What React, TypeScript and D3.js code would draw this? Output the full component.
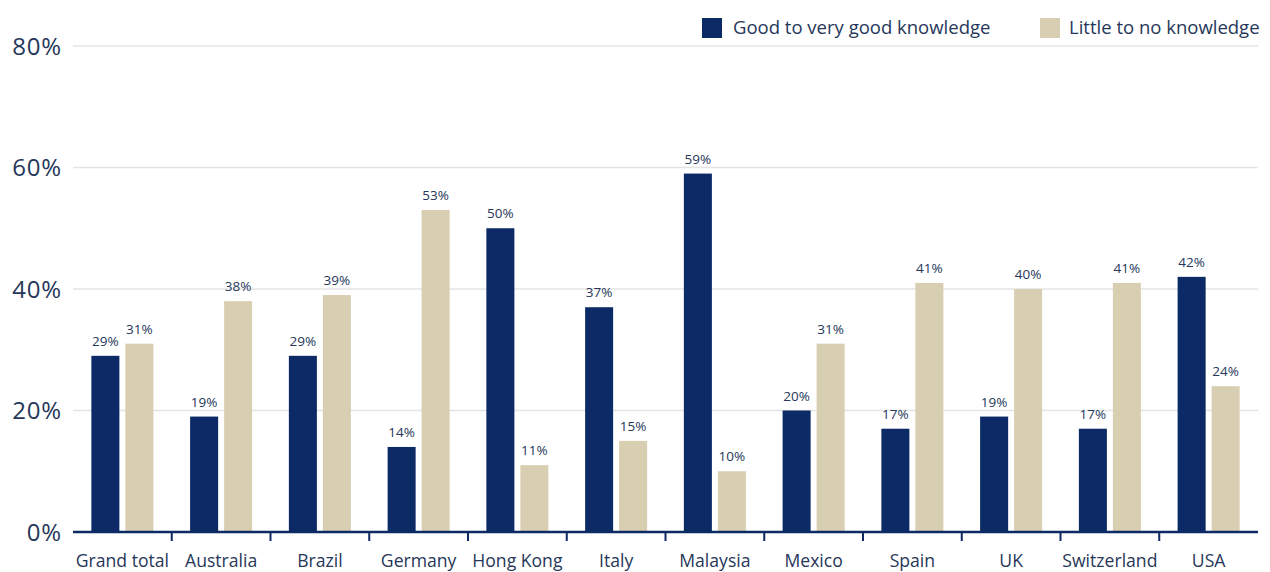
import React from "react";
import * as d3 from "d3";

const categories = ["Grand total", "Australia", "Brazil", "Germany", "Hong Kong", "Italy", "Malaysia", "Mexico", "Spain", "UK", "Switzerland", "USA"];
const goodValues = [29, 19, 29, 14, 50, 37, 59, 20, 17, 19, 17, 42];
const littleValues = [31, 38, 39, 53, 11, 15, 10, 31, 41, 40, 41, 24];
const seriesNames = ["Good to very good knowledge", "Little to no knowledge"];
const seriesColors = ["#0b2a66", "#d8ceb1"];
const yTicks = [0, 20, 40, 60, 80];

const W = 1270;
const H = 572;
const FONT = "'Open Sans', 'Noto Sans', sans-serif";
const TEXT = "#26375a";

export default function App() {
  const x0 = 73, x1 = 1258, y0 = 532, y1 = 46;
  const x = d3.scaleBand<string>().domain(categories).range([x0, x1]).paddingInner(0).paddingOuter(0);
  const xs = d3.scaleBand<string>().domain(["good", "little"]).range([0, x.bandwidth()]).paddingInner(0.176).paddingOuter(0.54);
  const y = d3.scaleLinear().domain([0, 80]).range([y0, y1]);
  const series = [
    { key: "good", values: goodValues, color: seriesColors[0] },
    { key: "little", values: littleValues, color: seriesColors[1] },
  ];
  return (
    <div style={{ position: "absolute", left: 0, top: 0 }}>
      <svg width={W} height={H} style={{ display: "block", fontFamily: FONT }}>
        <rect width={W} height={H} fill="#fff" />
        {yTicks.map((t) => (
          <g key={t}>
            {t > 0 && <line x1={x0} x2={x1} y1={y(t)} y2={y(t)} stroke="#e4e4e4" strokeWidth={1.5} />}
            <text x={62} y={y(t)} dy="0.36em" textAnchor="end" fontSize={24} letterSpacing={0.8} fill={TEXT}>{t}%</text>
          </g>
        ))}
        {series.map((s) =>
          categories.map((c, i) => {
            const bx = (x(c) as number) + (xs(s.key) as number);
            const v = s.values[i];
            return (
              <g key={s.key + c}>
                <rect x={bx} y={y(v)} width={xs.bandwidth()} height={y(0) - y(v)} fill={s.color} />
                <text x={bx + xs.bandwidth() / 2} y={y(v) - 10} textAnchor="middle" fontSize={13.5} fill={TEXT}>{v}%</text>
              </g>
            );
          })
        )}
        <line x1={x0} x2={x1} y1={y0} y2={y0} stroke="#0b2a66" strokeWidth={2.5} />
        {categories.slice(1).map((c) => (
          <line key={"t" + c} x1={x(c) as number} x2={x(c) as number} y1={y0} y2={y0 + 9} stroke="#0b2a66" strokeWidth={2} />
        ))}
        {categories.map((c) => (
          <text key={"l" + c} x={(x(c) as number) + x.bandwidth() / 2} y={567} textAnchor="middle" fontSize={17.6} fill={TEXT}>{c}</text>
        ))}
        <g>
          <rect x={702} y={18} width={20} height={20} fill={seriesColors[0]} />
          <text x={733} y={34} fontSize={18.5} fill={TEXT}>{seriesNames[0]}</text>
          <rect x={1040} y={18} width={20} height={20} fill={seriesColors[1]} />
          <text x={1069} y={34} fontSize={18.5} fill={TEXT}>{seriesNames[1]}</text>
        </g>
      </svg>
    </div>
  );
}
